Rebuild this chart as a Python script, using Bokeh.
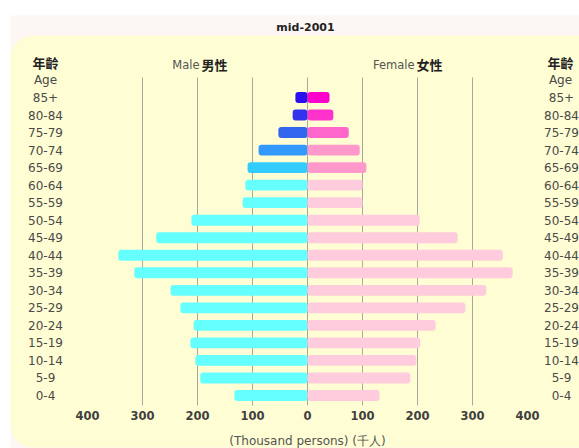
from bokeh.plotting import figure
from bokeh.models import Range1d, BoxAnnotation, ColumnDataSource
from bokeh.core.properties import value
from bokeh.embed import file_html
from bokeh.resources import INLINE

# ---- data (thousand persons) ----
ages = ["0-4", "5-9", "10-14", "15-19", "20-24", "25-29", "30-34", "35-39", "40-44",
        "45-49", "50-54", "55-59", "60-64", "65-69", "70-74", "75-79", "80-84", "85+"]
male = [133, 195, 204, 213, 207, 231, 249, 315, 344, 275, 211, 118, 113, 109, 89, 53, 27, 22]
female = [131, 187, 198, 205, 233, 287, 325, 373, 355, 273, 204, 100, 100, 107, 95, 75, 47, 40]
male_colors = ["#66ffff"] * 13 + ["#33ccff", "#3399ff", "#3366ee", "#3333ee", "#2a10ee"]
female_colors = ["#ffccdd"] * 13 + ["#ff99cc", "#ff99cc", "#ff66cc", "#ff33cc", "#ff00cc"]
tick_values = [-400, -300, -200, -100, 0, 100, 200, 300, 400]
grid_values = [-300, -200, -100, 0, 100, 200, 300]

W, H = 579, 448
PX_PER_UNIT = 0.55
ZERO_PX = 307.0
ROW_PX = 17.53
ROW0_PX = 395.0

x0 = -ZERO_PX / PX_PER_UNIT
x1 = x0 + W / PX_PER_UNIT
y1 = ROW0_PX / ROW_PX
y0 = y1 - H / ROW_PX

def px2x(px):  # picture px -> data x
    return x0 + px / PX_PER_UNIT

def py2y(py):  # picture py -> data y
    return y1 - py / ROW_PX

p = figure(width=W, height=H, output_backend="svg", toolbar_location=None,
           x_range=Range1d(x0, x1), y_range=Range1d(y0, y1),
           min_border=0, min_border_left=0, min_border_right=0,
           min_border_top=0, min_border_bottom=0)
p.axis.visible = False
p.grid.visible = False
p.outline_line_color = None
p.background_fill_color = "white"
p.border_fill_color = "white"

# panels
p.add_layout(BoxAnnotation(left=px2x(10), right=px2x(620), top=py2y(15), bottom=py2y(470),
                           fill_color="#fcf7f4", fill_alpha=1, line_color=None, level="underlay"))
p.add_layout(BoxAnnotation(left=px2x(10), right=px2x(640), top=py2y(35), bottom=py2y(447),
                           fill_color="#fefdd3", fill_alpha=1, line_color=None,
                           border_radius=22, level="underlay"))

# grid lines
p.segment(x0=grid_values, x1=grid_values, y0=[py2y(77)] * len(grid_values),
          y1=[py2y(405)] * len(grid_values), line_color="#a8a8a0", line_width=1)

idx = list(range(len(ages)))
msrc = ColumnDataSource(dict(y=idx, left=[-v for v in male], right=[0] * len(male), c=male_colors))
fsrc = ColumnDataSource(dict(y=idx, left=[0] * len(female), right=female, c=female_colors))
p.hbar(y="y", left="left", right="right", height=0.62, fill_color="c", line_color=None,
       border_radius=3, source=msrc)
p.hbar(y="y", left="left", right="right", height=0.62, fill_color="c", line_color=None,
       border_radius=3, source=fsrc)

font = value("DejaVu Sans")
cjk = value("Noto Sans CJK TC")

# age labels
p.text(x=[px2x(45)] * len(ages), y=idx, text=ages, text_align="center", text_baseline="middle",
       text_font=font, text_font_size="12px", text_color="#4a4a4a")
p.text(x=[px2x(561)] * len(ages), y=idx, text=ages, text_align="center", text_baseline="middle",
       text_font=font, text_font_size="12px", text_color="#4a4a4a")

# x tick labels
p.text(x=tick_values, y=[py2y(415)] * len(tick_values), text=[str(abs(v)) for v in tick_values],
       text_align="center", text_baseline="middle", text_font=font, text_font_size="11.5px",
       text_font_style="bold", text_color="#404040")

# headers
for cx in (45, 560):
    p.text(x=[px2x(cx)], y=[py2y(62)], text=["年齡"], text_align="center", text_baseline="middle",
           text_font=cjk, text_font_size="13px", text_font_style="bold", text_color="#222222")
    p.text(x=[px2x(cx)], y=[py2y(79)], text=["Age"], text_align="center", text_baseline="middle",
           text_font=font, text_font_size="12px", text_color="#4a4a4a")

p.text(x=[px2x(199)], y=[py2y(64)], text=["Male"], text_align="right", text_baseline="middle",
       text_font=font, text_font_size="11.5px", text_color="#555555")
p.text(x=[px2x(201)], y=[py2y(64)], text=["男性"], text_align="left", text_baseline="middle",
       text_font=cjk, text_font_size="13px", text_font_style="bold", text_color="#222222")
p.text(x=[px2x(414)], y=[py2y(64)], text=["Female"], text_align="right", text_baseline="middle",
       text_font=font, text_font_size="11.5px", text_color="#555555")
p.text(x=[px2x(416)], y=[py2y(64)], text=["女性"], text_align="left", text_baseline="middle",
       text_font=cjk, text_font_size="13px", text_font_style="bold", text_color="#222222")

# title
p.text(x=[px2x(305)], y=[py2y(27)], text=["mid-2001"], text_align="center", text_baseline="middle",
       text_font=font, text_font_size="11px", text_font_style="bold", text_color="#222222")

# bottom label
p.text(x=[px2x(307)], y=[py2y(440)], text=["(Thousand persons) (千人)"], text_align="center",
       text_baseline="middle", text_font=font, text_font_size="12px", text_color="#555555")

open("out.html", "w").write(file_html(p, INLINE))
